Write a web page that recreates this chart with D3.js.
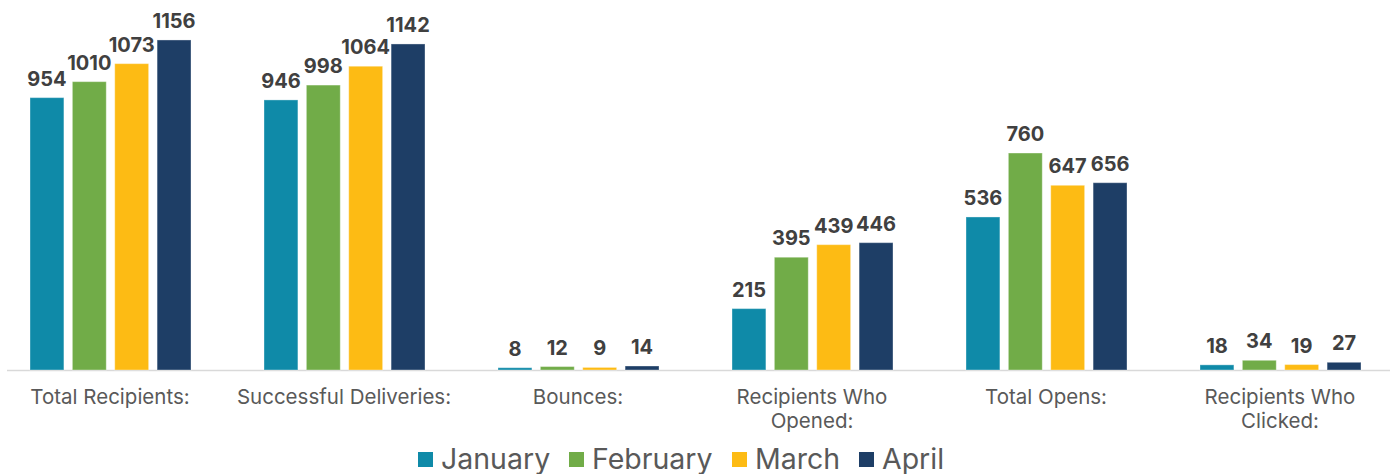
<!DOCTYPE html>
<meta charset="utf-8">
<script src="https://cdn.jsdelivr.net/npm/d3@7"></script>
<style>
  body { margin: 0; background: #fff; }
  text { font-family: Inter, "Noto Sans", sans-serif; }
</style>
<div id="chart"></div>
<script>
// data
const categories = [["Total Recipients:"], ["Successful Deliveries:"], ["Bounces:"],
  ["Recipients Who", "Opened:"], ["Total Opens:"], ["Recipients Who", "Clicked:"]];
const months = ["January", "February", "March", "April"];
const colors = ["#0F8AA8", "#71AC48", "#FDBB14", "#1E3E66"];
const january  = [954, 946, 8, 215, 536, 18];
const february = [1010, 998, 12, 395, 760, 34];
const march    = [1073, 1064, 9, 439, 647, 19];
const april    = [1156, 1142, 14, 446, 656, 27];
const series = [january, february, march, april];

const W = 1397, H = 474;
const svg = d3.select("#chart").append("svg")
  .attr("width", W).attr("height", H);

const x0 = d3.scaleBand().domain(d3.range(categories.length))
  .range([-7, 1397]).paddingInner(0).paddingOuter(0);
const x1 = d3.scaleBand().domain(d3.range(months.length))
  .range([x0.bandwidth() / 2 - 80, x0.bandwidth() / 2 + 81]).paddingInner(0.2).paddingOuter(0);
const y = d3.scaleLinear().domain([0, 1296]).range([370, 0]);

// axis line
svg.append("line")
  .attr("x1", 7).attr("x2", 1390)
  .attr("y1", y(0) + 0.5).attr("y2", y(0) + 0.5)
  .attr("stroke", "#d9d9d9").attr("stroke-width", 1.5);

const groups = svg.selectAll("g.cat").data(categories).join("g")
  .attr("class", "cat")
  .attr("transform", (d, i) => `translate(${x0(i)},0)`);

groups.each(function(c, ci) {
  const g = d3.select(this);
  series.forEach((s, mi) => {
    g.append("rect")
      .attr("x", x1(mi)).attr("width", x1.bandwidth())
      .attr("y", y(s[ci])).attr("height", y(0) - y(s[ci]))
      .attr("fill", colors[mi])
      .attr("stroke", "#fff").attr("stroke-opacity", 0.35).attr("stroke-width", 1);
    g.append("text")
      .attr("x", x1(mi) + x1.bandwidth() / 2)
      .attr("y", y(s[ci]) - 12)
      .attr("text-anchor", "middle")
      .attr("font-size", 20).attr("font-weight", 700)
      .attr("fill", "#404040")
      .text(s[ci]);
  });
  const lbl = g.append("text")
    .attr("text-anchor", "middle")
    .attr("font-size", 20.5).attr("fill", "#595959");
  c.forEach((line, li) => {
    lbl.append("tspan").attr("x", x0.bandwidth() / 2)
      .attr("y", 404 + li * 24).text(line);
  });
});

// legend
const legendX = [418, 569, 732, 859];
const legend = svg.selectAll("g.leg").data(months).join("g")
  .attr("class", "leg")
  .attr("transform", (d, i) => `translate(${legendX[i]},0)`);
legend.append("rect").attr("x", 0).attr("y", 452).attr("width", 15).attr("height", 15)
  .attr("fill", (d, i) => colors[i]);
legend.append("text").attr("x", 23).attr("y", 469)
  .attr("font-size", 28.5).attr("fill", "#595959")
  .text(d => d);
</script>
